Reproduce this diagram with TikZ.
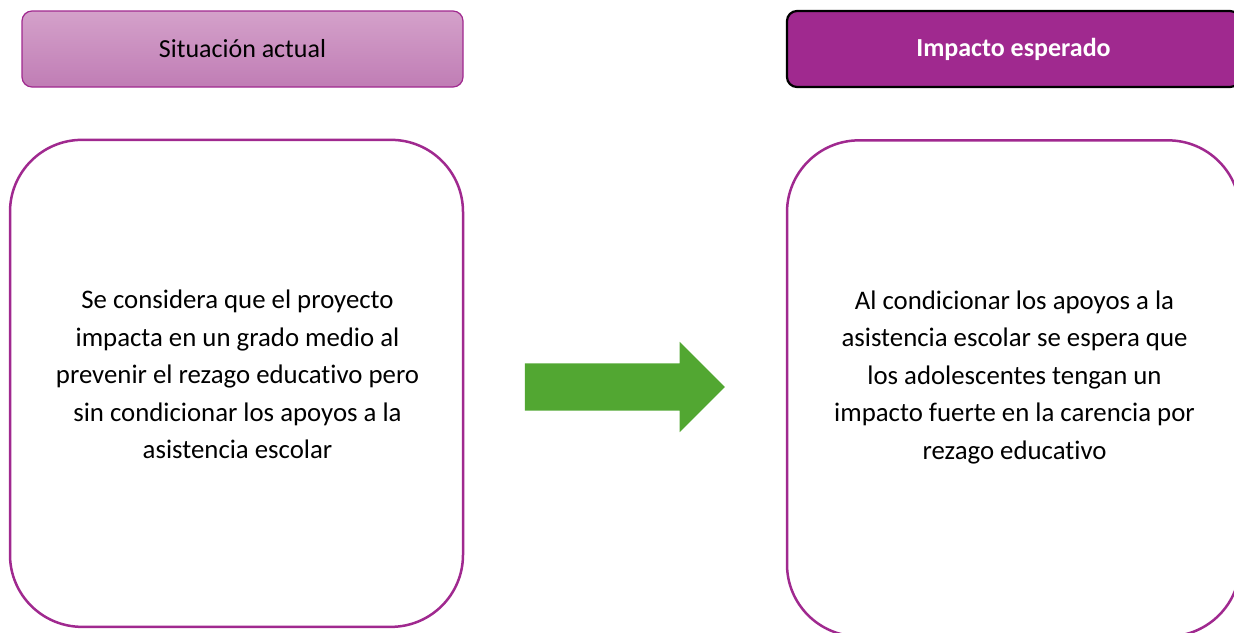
\documentclass[tikz,border=0pt]{standalone}
\usepackage{fontspec}
\setmainfont[Ligatures=NoCommon]{Carlito}
\usepackage{tikz}
\usetikzlibrary{shapes,arrows,positioning}
\definecolor{purple}{RGB}{160, 41, 143}
\definecolor{mauvetop}{RGB}{212, 161, 202}
\definecolor{mauvebot}{RGB}{192, 125, 181}
\definecolor{green}{RGB}{82, 167, 50}
\tikzstyle{sithead} = [rectangle, rounded corners=10pt, draw=purple, line width=1.2pt, top color=mauvetop, bottom color=mauvebot, text=black, minimum width=441pt, minimum height=76pt, font=\fontsize{26}{31}\selectfont]
\tikzstyle{imphead} = [rectangle, rounded corners=10pt, draw=black, line width=2.2pt, fill=purple, text=white, minimum width=453pt, minimum height=76pt, font=\fontsize{26}{31}\selectfont\bfseries]
\tikzstyle{bigbox} = [rectangle, rounded corners=72pt, draw=purple, line width=2.5pt, fill=white, minimum width=453pt]
\tikzstyle{boxtext} = [text=black, align=center, font=\fontsize{26.8}{37.5}\selectfont]
\tikzstyle{bigarrow} = [single arrow, fill=green, draw=none, inner sep=23.5pt, minimum height=200pt, minimum width=90pt, single arrow head extend=21.5pt, single arrow tip angle=90]

\begin{document}
\begin{tikzpicture}[x=1pt, y=-1pt]
\useasboundingbox (0,0) rectangle (1234,632);

% headers =============================
\node[sithead] (sithdr) at (242.5,49) {Situación actual};
\node[imphead] (imphdr) at (1013.5,49) {Impacto esperado};

% boxes
\node[bigbox, minimum height=487pt, below=51pt of sithdr, xshift=-6pt] (sitbox) {};
\node[bigbox, minimum height=496pt, below=51pt of imphdr] (impbox) {};

% texts
\node[boxtext] (sittext) at ([xshift=1pt, yshift=9pt]sitbox.center) {Se considera que el proyecto\\ impacta en un grado medio al\\ prevenir el rezago educativo pero\\ sin condicionar los apoyos a la\\ asistencia escolar};
\node[boxtext] (imptext) at ([xshift=1pt, yshift=11pt]impbox.center) {Al condicionar los apoyos a la\\ asistencia escolar se espera que\\ los adolescentes tengan un\\ impacto fuerte en la carencia por\\ rezago educativo};

% arrow
\node[bigarrow] (arrow) at (613,387) {};

\end{tikzpicture}
\end{document}
